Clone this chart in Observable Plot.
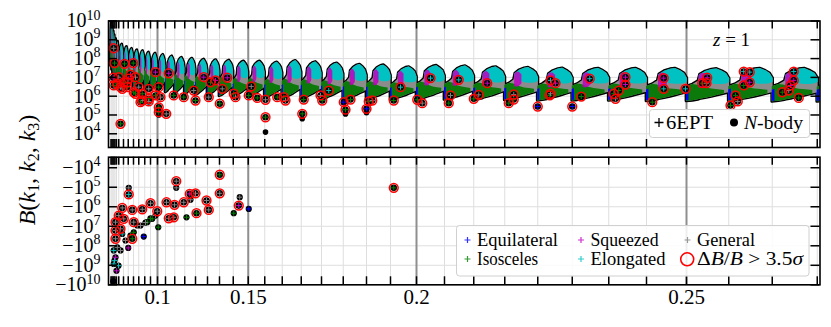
<!DOCTYPE html>
<html><head><meta charset="utf-8">
<script src="https://cdn.jsdelivr.net/npm/d3@7"></script>
<script src="https://cdn.jsdelivr.net/npm/@observablehq/plot@0.6"></script>
<style>
html,body{margin:0;padding:0;background:#fff;}
#wrap{position:relative;width:831px;height:327px;overflow:hidden;}
#wrap svg{position:absolute;left:0;}
</style></head>
<body><div id="wrap"></div>
<script>
// ---------------- DATA (x = triangle index, ticks labelled by k1) ----------------
const binStart = [-6,-2,2,6,10,16,25,44,63,84,105,129,152,180,212,249,289,332,380,428,483,543,609,679,755,836,923,1016,1112,1216,1328,1445,1569,1701,1839,1985,2136,2296,2465,2639,2819];
const lastBinWidth = 185;
// log10 of the comb top (peak) and comb bottom, per k1 bin
const combPeak = [9.95,9.7,9.45,9.25,9.05,8.9,8.75,8.62,8.52,8.45,8.4,8.33,8.27,8.2,8.12,8.05,8.0,7.95,7.92,7.9,7.85,7.85,7.8,7.88,7.82,7.75,7.68,7.65,7.55,7.62,7.6,7.55,7.52,7.48,7.47,7.47,7.47,7.45,7.47,7.47,7.45];
const combBase = [7.6,7.4,7.2,7.0,6.9,6.8,6.7,6.6,6.5,6.45,6.4,6.35,6.3,6.25,6.2,6.15,6.1,6.05,6.0,6.0,5.95,5.95,5.9,5.85,5.85,5.82,5.8,5.8,5.8,5.8,5.8,5.78,5.78,5.75,5.75,5.75,5.72,5.72,5.72,5.7,5.7];

const majorIdx = [180, 543, 1216, 2296];
const majorLabels = ["0.1", "0.15", "0.2", "0.25"];
const topDecades = [1e4,1e5,1e6,1e7,1e8,1e9,1e10];
const botDecades = [-1e4,-1e5,-1e6,-1e7,-1e8,-1e9,-1e10];

// points with DeltaB/B > 3.5 sigma, top panel (triangle index, log10 B, shape class)
const topOutIdx = [5,8,48,83,3,19,39,59,72,92,119,145,172,185,192,185,215,225,245,285,325,332,365,385,392,412,429,439,459,485,492,545,555,579,612,612,659,32,25,45,65,92,5,32,59,85,105,119,145,172,112,145,185,
 685,692,759,765,832,839,865,925,932,952,1016,1025,1039,1125,1152,1219,1239,1272,1345,1352,1385,1445,1465,1499,1585,1605,1605,1701,1749,1752,1772,1752,1839,1875,1909,2005,2012,2025,2052,2052,2159,2205,2205,2292,2359,2379,2376,2472,2492,2501,2525,2525,2549,2549,2679,2705,2712,2725,2725,2745];
const topOutLog = [8.55,7.76,7.72,7.76,6.98,6.66,6.39,6.74,7.15,6.13,5.77,5.86,7.28,6.48,5.95,5.41,5.06,7.22,6.04,5.95,6.30,5.77,7.01,5.95,6.74,6.84,5.60,6.39,6.98,6.13,5.95,6.04,6.52,5.91,5.81,4.88,5.95,4.53,7.01,6.74,6.93,7.01,6.57,6.48,6.48,6.21,6.48,6.13,6.39,6.04,5.68,5.72,5.15,
 5.95,5.77,5.06,5.82,6.04,5.77,6.30,5.68,5.28,5.82,5.33,5.72,5.77,5.77,6.48,5.81,5.63,6.96,5.63,6.04,6.87,5.86,6.07,6.69,5.63,6.09,5.82,5.45,6.04,6.84,6.69,6.13,5.45,5.98,6.93,6.13,5.86,6.30,7.01,6.62,5.68,6.96,6.39,6.39,6.69,6.98,6.69,5.51,6.04,5.72,6.57,7.31,7.28,6.74,6.21,6.30,6.57,6.84,7.31,5.91];
const topOutType = ("GIIISIGISI"+"GISIGIGSII"+"GISGISIGSI"+"GIGIGIIIGI"+"SGIGIIGIGI"+"IGI"+
  "IGIIGILEII"+"EIGILIGLIG"+"LIGSIGIEIL"+"SGEILIGISS"+"ISLLISGIIG"+"ILLSIGSSLI").split("");
// extra N-body points without a circle, top panel
const topDotIdx = [612, 759, 932, 1016, 185];
const topDotLog = [4.09, 4.80, 5.05, 5.12, 5.00];

// negative bispectra, bottom panel (triangle index, log10 |B|, class)
const botOutIdx = [255,65,429,332,309,429,376,285,216,248,152,179,119,79,39,45,12,12,12,85,79,225,245,336,385,505,32,25,1125];
const botOutLog = [4.69,5.37,4.36,5.31,5.34,5.31,5.68,5.77,5.77,5.90,5.82,6.23,6.13,6.16,6.06,6.62,6.79,7.22,7.64,6.79,7.64,6.59,6.54,6.33,6.16,5.94,7.13,6.45,5.03];
const botOutType = "GLIGSGGGGGGGGGGGGGGGIGGIGSGGI".split("");
const botDotIdx = [65,255,509,312,545,485,296,183,125,63,5,5,3,99,139,159,85,19,12,39,8,16,24,32,52,72,112,132,152,172];
const botDotLog = [5.03,5.03,5.51,5.64,6.11,6.33,6.54,7.05,7.53,8.11,8.24,8.93,9.82,6.96,6.79,6.62,7.31,8.08,8.59,7.39,8.76,9.28,9.02,8.24,7.73,7.48,6.96,6.81,6.6,6.45];
const botDotType = "GGGGEIIIESLLEGIIIGSLLSLGGIGGIG".split("");

// ---------------- STYLE ----------------
const typeColor = {E: "#0000ff", I: "#008000", S: "#c000c0", L: "#00bfbf", G: "#808080"};
// shape of one comb inside its bin: f = fraction of bin width, lo/hi = fraction between comb base and peak
const OUT_F  = [0,0.15,0.28,0.32,0.45,0.6,0.72,0.85,0.95,1.02];
const OUT_LO = [0,0.02,0.05,0.07,0.1,0.14,0.18,0.22,0.25,0.27];
const OUT_HI = [0.45,0.52,0.62,0.82,0.92,0.98,1,0.93,0.85,0.7];
const SHAPES = [
  {fill: "#000", stroke: "#000", sw: 2.8, f: OUT_F, lo: OUT_LO, hi: OUT_HI},
  {fill: "#8c8c8c", f: OUT_F, lo: OUT_LO, hi: OUT_HI},
  {fill: "#0b7a0b", f:[0,0.15,0.28,0.45,0.6,0.75,0.9], lo:[0,0.02,0.05,0.1,0.14,0.19,0.23], hi:[0.45,0.52,0.5,0.42,0.38,0.36,0.34]},
  {fill: "#00c2c2", f:[0.3,0.45,0.6,0.72,0.85,0.95,1.02], lo:[0.72,0.6,0.54,0.52,0.52,0.54,0.58], hi:[0.8,0.92,0.98,1,0.93,0.85,0.7]},
  {fill: "#c000c0", opacity: 0.85, f:[0.3,0.36,0.44,0.52], lo:[0.42,0.4,0.42,0.5], hi:[0.78,0.86,0.86,0.78]},
  {fill: "#0000ff", f:[0,0.06], lo:[0.02,0.02], hi:[0.35,0.38]}
];

const W = 831, mL = 108, mR = 11.5, innerW = W - mL - mR;
const tickLen = 8;
const FONT = "'Liberation Serif', 'Times New Roman', serif";

function combRows(shape) {
  const rows = [];
  binStart.forEach((s, i) => {
    const w = (i < binStart.length - 1 ? binStart[i + 1] : s + lastBinWidth) - s;
    const b = combBase[i], p = combPeak[i];
    shape.f.forEach((f, j) => rows.push({comb: i, x: s + f * w,
      y1: Math.pow(10, b + shape.lo[j] * (p - b)), y2: Math.pow(10, b + shape.hi[j] * (p - b))}));
  });
  return rows;
}

function pts(idx, logs, types, sign) {
  return idx.map((d, i) => ({x: d, y: sign * Math.pow(10, logs[i]), t: types ? types[i] : "G"}));
}

function gridMarks(decades) {
  return [
    Plot.ruleX(binStart, {stroke: "#dedede", strokeWidth: 1}),
    Plot.ruleY(decades, {stroke: "#dedede", strokeWidth: 1}),
    Plot.ruleX(majorIdx, {stroke: "#8f8f8f", strokeWidth: 2})
  ];
}
function tickMarks(decades, inner, labelFn) {
  return [
    Plot.frame({stroke: "#000", strokeWidth: 1.6}),
    Plot.ruleX(binStart, {stroke: "#000", strokeWidth: 1.5, insetBottom: inner - tickLen}),
    Plot.ruleX(binStart, {stroke: "#000", strokeWidth: 1.5, insetTop: inner - tickLen}),
    Plot.ruleY(decades, {stroke: "#000", strokeWidth: 1.5, insetRight: innerW - 9}),
    Plot.ruleY(decades, {stroke: "#000", strokeWidth: 1.5, insetLeft: innerW - 9}),
    Plot.text(decades, {y: d => d, frameAnchor: "left", dx: -8, textAnchor: "end", text: labelFn, fontSize: 20})
  ];
}
function outlierMarks(data) {
  return [
    Plot.dot(data, {x: "x", y: "y", r: 3.3, fill: "#000", stroke: "none"}),
    Plot.dot(data, {x: "x", y: "y", r: 1.8, symbol: "plus", stroke: d => typeColor[d.t], strokeWidth: 1}),
    Plot.dot(data, {x: "x", y: "y", r: 4.4, fill: "none", stroke: "#ff0000", strokeWidth: 1.5})
  ];
}

// ---------------- TOP PANEL ----------------
const topH = 150, topMT = 20.5, topMB = 3, topInner = topH - topMT - topMB;
const topLabel = d => "10^" + Math.round(Math.log10(d));
const topChart = Plot.plot({
  width: W, height: topH, marginLeft: mL, marginRight: mR, marginTop: topMT, marginBottom: topMB,
  style: {fontFamily: FONT, background: "transparent", overflow: "visible"},
  x: {domain: [-16, 2830], axis: null},
  y: {type: "log", domain: [Math.pow(10, 3.27), 1e10], axis: null},
  marks: [
    ...gridMarks(topDecades),
    ...SHAPES.map(s => Plot.areaY(combRows(s), {x: "x", y1: "y1", y2: "y2", z: "comb", fill: s.fill,
        fillOpacity: s.opacity || 1, stroke: s.stroke || "none", strokeWidth: s.sw || 0, clip: true})),
    Plot.dot(pts(topDotIdx, topDotLog, null, 1), {x: "x", y: "y", r: 2.8, fill: "#000"}),
    ...outlierMarks(pts(topOutIdx, topOutLog, topOutType, 1)),
    ...tickMarks(topDecades, topInner, topLabel)
  ]
});

// ---------------- BOTTOM PANEL ----------------
const botH = 177, botMT = 6.7, botMB = 42.7, botInner = botH - botMT - botMB;
const botLabel = d => "\u221210^" + Math.round(Math.log10(-d));
const botDots = pts(botDotIdx, botDotLog, botDotType, -1);
const botChart = Plot.plot({
  width: W, height: botH, marginLeft: mL, marginRight: mR, marginTop: botMT, marginBottom: botMB,
  style: {fontFamily: FONT, background: "transparent", overflow: "visible"},
  x: {domain: [-16, 2830], axis: null},
  y: {type: "log", domain: [-1e10, -Math.pow(10, 3.46)], axis: null},
  marks: [
    ...gridMarks(botDecades),
    Plot.dot(botDots, {x: "x", y: "y", r: 3.1, fill: "#000"}),
    Plot.dot(botDots, {x: "x", y: "y", r: 1.8, symbol: "plus", stroke: d => typeColor[d.t], strokeWidth: 1}),
    ...outlierMarks(pts(botOutIdx, botOutLog, botOutType, -1)),
    ...tickMarks(botDecades, botInner, botLabel),
    Plot.text(majorIdx, {x: d => d, frameAnchor: "bottom", dy: 19.5, text: (d, i) => majorLabels[i], fontSize: 21})
  ]
});

// superscripts for 10^n labels
function superscripts(svg) {
  d3.select(svg).selectAll("text").each(function () {
    const m = this.textContent.match(/^(\u2212?10)\^(\d+)$/);
    if (!m) return;
    const t = d3.select(this);
    t.text(null);
    t.append("tspan").attr("font-size", 20).text(m[1]);
    t.append("tspan").attr("font-size", 14).attr("dy", "-0.55em").text(m[2]);
  });
}
superscripts(topChart); superscripts(botChart);

const wrap = document.getElementById("wrap");
topChart.style.top = "0px"; botChart.style.top = "150px";
wrap.appendChild(topChart); wrap.appendChild(botChart);

// ---------------- ANNOTATIONS & LEGENDS ----------------
const ov = d3.select(wrap).append("svg").attr("width", W).attr("height", 327)
  .style("top", "0px").style("font-family", FONT);

// y label
const yl = ov.append("text").attr("transform", "translate(35,170) rotate(-90)")
  .attr("text-anchor", "middle").attr("font-size", 24);
yl.append("tspan").attr("font-style", "italic").text("B");
yl.append("tspan").text("(");
[1, 2, 3].forEach((n, i) => {
  yl.append("tspan").attr("font-style", "italic").text("k");
  yl.append("tspan").attr("font-size", 16).attr("dy", 4).text(n);
  yl.append("tspan").attr("dy", -4).text(i < 2 ? ", " : ")");
});

// z = 1
const zt = ov.append("text").attr("x", 713).attr("y", 45.5).attr("font-size", 19);
zt.append("tspan").attr("font-style", "italic").text("z");
zt.append("tspan").text(" = 1");

// legend 1
ov.append("rect").attr("x", 649.5).attr("y", 109.5).attr("width", 160).attr("height", 28).attr("rx", 3)
  .attr("fill", "#fff").attr("fill-opacity", 0.85).attr("stroke", "#d0d0d0");
ov.append("path").attr("d", "M654.5,122.5h9M659,118v9").attr("stroke", "#000").attr("stroke-width", 1.3);
ov.append("text").attr("x", 666).attr("y", 128.5).attr("font-size", 18)
  .attr("textLength", 47).attr("lengthAdjust", "spacingAndGlyphs").text("6EPT");
ov.append("circle").attr("cx", 734).attr("cy", 122.5).attr("r", 4).attr("fill", "#000");
const nb = ov.append("text").attr("x", 744).attr("y", 128.5).attr("font-size", 18)
  .attr("textLength", 59).attr("lengthAdjust", "spacingAndGlyphs");
nb.append("tspan").attr("font-style", "italic").text("N");
nb.append("tspan").text("-body");

// legend 2
ov.append("rect").attr("x", 456.5).attr("y", 225.5).attr("width", 352.5).attr("height", 50.5).attr("rx", 3)
  .attr("fill", "#fff").attr("fill-opacity", 0.85).attr("stroke", "#d0d0d0");
const legItems = [
  {label: "Equilateral", c: typeColor.E, x: 467.5, y: 240, w: 81},
  {label: "Isosceles", c: typeColor.I, x: 467.5, y: 259, w: 61},
  {label: "Squeezed", c: typeColor.S, x: 581, y: 240, w: 68},
  {label: "Elongated", c: typeColor.L, x: 581, y: 259, w: 75},
  {label: "General", c: typeColor.G, x: 687.5, y: 240, w: 58}
];
legItems.forEach(it => {
  ov.append("path").attr("d", `M${it.x - 3},${it.y}h6M${it.x},${it.y - 3}v6`).attr("stroke", it.c)
    .attr("stroke-width", 1.2).attr("stroke-opacity", 0.8);
  ov.append("text").attr("x", it.x + 9.5).attr("y", it.y + 5.5).attr("font-size", 18)
    .attr("textLength", it.w).attr("lengthAdjust", "spacingAndGlyphs").text(it.label);
});
ov.append("circle").attr("cx", 687.2).attr("cy", 259.3).attr("r", 6.5).attr("fill", "none")
  .attr("stroke", "#ff0000").attr("stroke-width", 1.6);
const sg = ov.append("text").attr("x", 697).attr("y", 264.8).attr("font-size", 18)
  .attr("textLength", 106).attr("lengthAdjust", "spacingAndGlyphs");
sg.append("tspan").text("\u0394");
sg.append("tspan").attr("font-style", "italic").text("B");
sg.append("tspan").text("/");
sg.append("tspan").attr("font-style", "italic").text("B");
sg.append("tspan").text(" > 3.5");
sg.append("tspan").attr("font-style", "italic").text("\u03c3");
</script></body></html>
